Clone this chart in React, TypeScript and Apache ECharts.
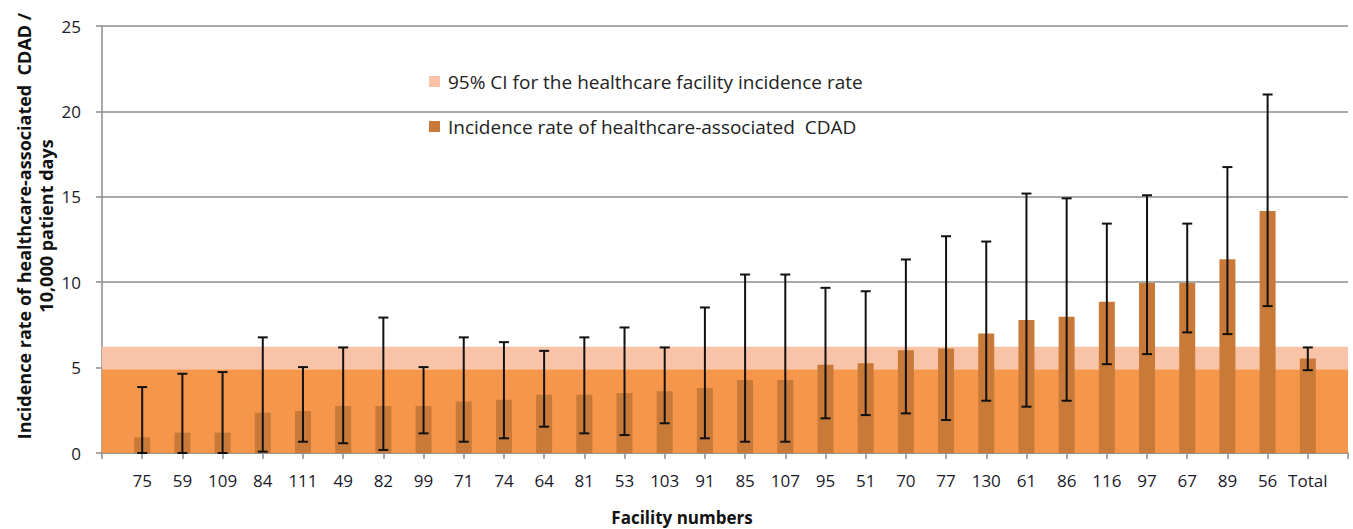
import React, { useEffect, useRef } from "react";
import * as echarts from "echarts";

const facilities = ["75","59","109","84","111","49","82","99","71","74","64","81","53","103","91","85","107","95","51","70","77","130","61","86","116","97","67","89","56","Total"];
const rates = [0.92,1.19,1.19,2.36,2.46,2.75,2.75,2.75,3.02,3.12,3.41,3.41,3.51,3.61,3.80,4.27,4.27,5.16,5.26,6.02,6.12,7.0,7.78,7.97,8.85,9.96,9.96,11.35,14.17,5.54];
const ciLow = [0,0,0,0.08,0.66,0.57,0.18,1.15,0.66,0.86,1.54,1.15,1.05,1.74,0.86,0.66,0.66,2.03,2.22,2.32,1.93,3.06,2.71,3.06,5.20,5.79,7.06,6.96,8.6,4.85];
const ciHigh = [3.86,4.64,4.74,6.77,5.03,6.18,7.93,5.03,6.77,6.49,5.98,6.77,7.35,6.18,8.52,10.45,10.45,9.67,9.47,11.33,12.69,12.38,15.19,14.91,13.43,15.09,13.43,16.74,20.99,6.18];
// overall (Total) 95% CI band: lower, upper
const totalBand = [4.9, 6.22];
const yTicks = [0, 5, 10, 15, 20, 25];

const CI_NAME = "95% CI for the healthcare facility incidence rate";
const RATE_NAME = "Incidence rate of healthcare-associated  CDAD";

export default function App() {
  const ref = useRef<HTMLDivElement>(null);
  useEffect(() => {
    if (!ref.current) return;
    const chart = echarts.init(ref.current, null, { renderer: "svg" });
    const cats = ["", ...facilities, ""];
    const barData = [null, ...rates, null].map((v) => (v === null ? "-" : v));
    const errData = facilities.map((_, i) => [i + 1, ciLow[i], ciHigh[i]]);
    const font = "'Open Sans', Lato, sans-serif";
    chart.setOption({
      animation: false,
      textStyle: { fontFamily: font },
      grid: { left: 102, right: 5, top: 26, bottom: 76 },
      legend: {
        orient: "vertical",
        left: 429,
        top: 72,
        itemGap: 26,
        itemWidth: 11,
        itemHeight: 11,
        icon: "rect",
        padding: 0,
        data: [CI_NAME, RATE_NAME],
        textStyle: { fontSize: 19, color: "#222", fontFamily: font, padding: [0, 0, 0, 3] },
      },
      graphic: [
        {
          type: "text",
          x: 24,
          y: 226,
          rotation: Math.PI / 2,
          style: {
            text: "Incidence rate of healthcare-associated  CDAD /",
            font: "bold 18px " + font,
            fill: "#111",
            textAlign: "center",
            textVerticalAlign: "middle",
          },
        },
        {
          type: "text",
          x: 46,
          y: 226,
          rotation: Math.PI / 2,
          style: {
            text: "10,000 patient days",
            font: "bold 18px " + font,
            fill: "#111",
            textAlign: "center",
            textVerticalAlign: "middle",
          },
        },
        {
          type: "text",
          x: 682,
          y: 517,
          style: {
            text: "Facility numbers",
            font: "bold 17px " + font,
            fill: "#111",
            textAlign: "center",
            textVerticalAlign: "middle",
          },
        },
      ],
      xAxis: {
        type: "category",
        data: cats,
        boundaryGap: false,
        axisLine: { lineStyle: { color: "#8c8c8c", width: 1.5 } },
        axisTick: { show: true, interval: 0, length: 6, lineStyle: { color: "#8c8c8c", width: 1.5 } },
        axisLabel: { interval: 0, margin: 19, fontSize: 17, color: "#1a1a2a", fontFamily: font },
        splitLine: { show: false },
      },
      yAxis: {
        type: "value",
        min: yTicks[0],
        max: yTicks[yTicks.length - 1],
        interval: 5,
        axisLine: { show: true, lineStyle: { color: "#8c8c8c", width: 1.5 } },
        axisTick: { show: true, length: 6, lineStyle: { color: "#8c8c8c", width: 1.5 } },
        axisLabel: { margin: 21, fontSize: 17, color: "#1a1a2a", fontFamily: font },
        splitLine: { show: true, lineStyle: { color: "#8c8c8c", width: 1.5 } },
      },
      series: [
        {
          name: CI_NAME,
          type: "line",
          data: cats.map(() => "-"),
          showSymbol: false,
          z: 1,
          itemStyle: { color: "#F8C3A6" },
          lineStyle: { width: 0 },
          markArea: {
            silent: true,
            data: [
              [
                { yAxis: 0, itemStyle: { color: "#F5964A", opacity: 1 } },
                { yAxis: totalBand[0] },
              ],
              [
                { yAxis: totalBand[0], itemStyle: { color: "#F8C3A6", opacity: 1 } },
                { yAxis: totalBand[1] },
              ],
            ],
          },
        },
        {
          name: RATE_NAME,
          type: "bar",
          data: barData,
          barWidth: 16,
          z: 3,
          itemStyle: { color: "#C97A38" },
        },
        {
          name: "err",
          type: "custom",
          z: 4,
          data: errData,
          renderItem: (params: any, api: any) => {
            const x = api.value(0);
            const lo = api.coord([x, api.value(1)]);
            const hi = api.coord([x, api.value(2)]);
            const cap = 5;
            const style = { stroke: "#111", lineWidth: 2 };
            return {
              type: "group",
              children: [
                { type: "line", shape: { x1: lo[0], y1: lo[1], x2: hi[0], y2: hi[1] }, style },
                { type: "line", shape: { x1: hi[0] - cap, y1: hi[1], x2: hi[0] + cap, y2: hi[1] }, style },
                { type: "line", shape: { x1: lo[0] - cap, y1: lo[1], x2: lo[0] + cap, y2: lo[1] }, style },
              ],
            };
          },
        },
      ],
    });
    return () => chart.dispose();
  }, []);
  return <div ref={ref} style={{ width: 1353, height: 529, position: "absolute", left: 0, top: 0 }} />;
}
